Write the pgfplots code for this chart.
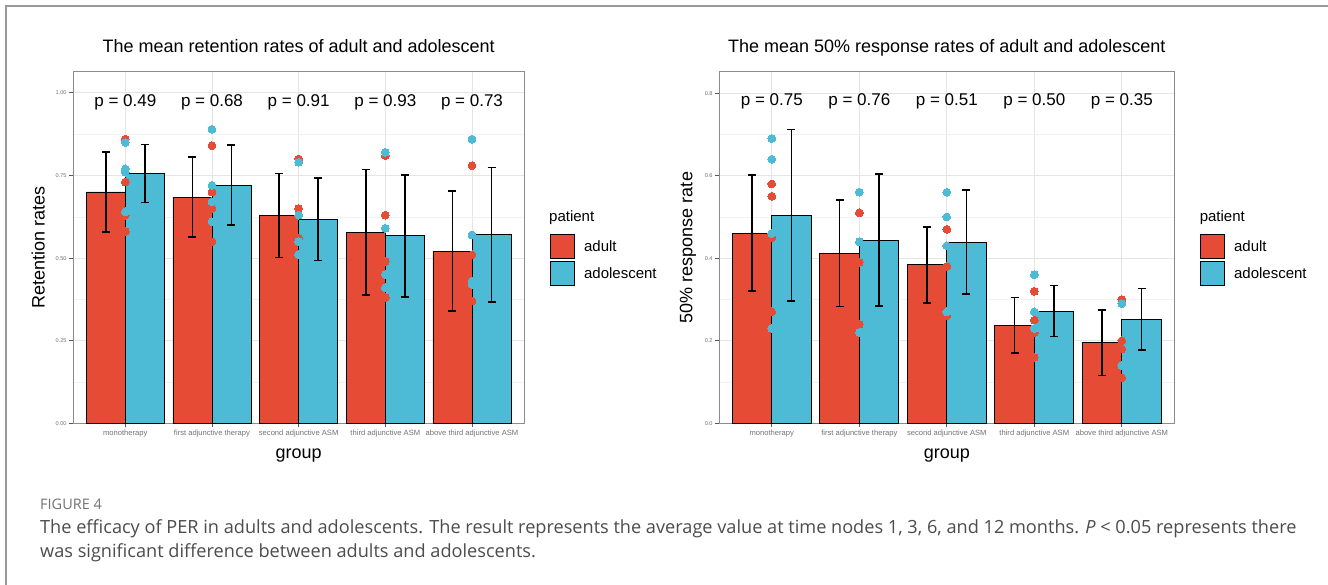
\documentclass[border=0pt]{standalone}
\usepackage{pgfplots}
\usepackage{pgfplotstable}
\pgfplotsset{compat=1.18}
\usepackage{fontspec}
\setmainfont{Liberation Sans}
\newfontfamily\capfont{Open Sans}
\definecolor{npgred}{HTML}{E64B35}
\definecolor{npgblue}{HTML}{4DBBD5}

\pgfplotstableread{
x ya ea yb eb
1 0.700 0.122 0.756 0.088
2 0.684 0.121 0.721 0.121
3 0.629 0.127 0.618 0.125
4 0.578 0.190 0.567 0.185
5 0.521 0.182 0.571 0.203
}\retbars
\pgfplotstableread{
x a b
1 0.86 0.85
1 0.73 0.77
1 0.63 0.76
1 0.58 0.64
2 0.84 0.89
2 0.70 0.72
2 0.65 0.67
2 0.55 0.61
3 0.80 0.79
3 0.65 0.63
3 0.56 0.55
3 0.51 0.51
4 0.81 0.82
4 0.63 0.59
4 0.49 0.45
4 0.38 0.41
5 0.78 0.86
5 0.51 0.57
5 0.43 0.43
5 0.37 0.42
}\retpts
\pgfplotstableread{
x ya ea yb eb
1 0.461 0.140 0.504 0.208
2 0.412 0.129 0.444 0.160
3 0.384 0.092 0.439 0.126
4 0.238 0.067 0.272 0.062
5 0.195 0.079 0.252 0.075
}\resbars
\pgfplotstableread{
x a b
1 0.58 0.69
1 0.55 0.64
1 0.45 0.46
1 0.27 0.23
2 0.51 0.56
2 0.51 0.56
2 0.39 0.44
2 0.24 0.22
3 0.47 0.56
3 0.43 0.50
3 0.38 0.43
3 0.26 0.27
4 0.32 0.36
4 0.25 0.27
4 0.22 0.23
4 0.16 0.23
5 0.30 0.29
5 0.20 0.29
5 0.18 0.29
5 0.11 0.14
}\respts

\pgfplotsset{
  gg/.style={
    scale only axis, height=351.6pt, anchor=south west,
    clip mode=individual,
    xmin=0.4, xmax=5.6, ymin=0,
    xtick={1,2,3,4,5},
    xticklabels={monotherapy, first adjunctive therapy, second adjunctive ASM, third adjunctive ASM, above third adjunctive ASM},
    x tick label style={font=\fontsize{7.6}{8}\selectfont, text=black!55, inner sep=2pt},
    y tick label style={font=\fontsize{5.6}{6}\selectfont, text=black!55, inner sep=2.5pt},
    tick align=outside, major tick length=4pt, minor tick length=0pt,
    tick style={black!65, line width=0.7pt},
    xtick pos=bottom, ytick pos=left,
    minor x tick num=0, minor y tick num=1,
    grid=both,
    major grid style={black!10, line width=0.8pt},
    minor grid style={black!5, line width=0.5pt},
    axis line style={black!45, line width=0.9pt},
    xlabel={group},
    xlabel style={font=\fontsize{18}{20}\selectfont, at={(axis description cs:0.5,-0.0995)}, anchor=base},
    ylabel style={font=\fontsize{18}{20}\selectfont, anchor=center},
    title style={font=\fontsize{18}{20}\selectfont, at={(axis description cs:0.5,1.038)}, anchor=base},
    legend style={draw=none, fill=none, font=\fontsize{15}{17}\selectfont, anchor=north west,
      inner sep=0pt, row sep=2pt, column sep=9pt, nodes={inner sep=0pt, anchor=west}},
    legend cell align=left,
    legend image code/.code={\draw[#1, draw=black, line width=0.9pt] (0pt,-12pt) rectangle (24pt,12pt);},
  },
  barA/.style={ybar, bar width=0.45, bar shift=-0.225, fill=npgred, draw=black, line width=0.9pt},
  barB/.style={ybar, bar width=0.45, bar shift=0.225, fill=npgblue, draw=black, line width=0.9pt},
  errb/.style={draw=none, mark=none, forget plot,
    error bars/.cd, y dir=both, y explicit,
    error bar style={draw=black, line width=1.7pt},
    error mark options={draw=black, line width=1.7pt, mark size=4pt, rotate=90}},
  ptA/.style={only marks, mark=*, mark size=3.9pt, color=npgred, mark options={draw=npgred, fill=npgred, line width=0pt}, forget plot},
  ptB/.style={only marks, mark=*, mark size=3.9pt, color=npgblue, mark options={draw=npgblue, fill=npgblue, line width=0pt}, forget plot},
}

\begin{document}
\begin{tikzpicture}[x=1pt,y=1pt]
\useasboundingbox (0,0) rectangle (1328,-585);
\fill[white] (0,0) rectangle (1328,-585);
\draw[black!40, line width=1.2pt] (6,-585) -- (6,-6) -- (1328,-6);

\begin{axis}[gg, at={(73.3pt,-423.3pt)}, width=450.7pt, ymax=1.064,
  ytick={0,0.25,0.5,0.75,1}, yticklabels={0.00,0.25,0.50,0.75,1.00},
  ylabel={Retention rates}, ylabel style={at={(axis description cs:-0.078,0.5)}},
  title={The mean retention rates of adult and adolescent},
  legend style={at={(axis description cs:1.0577,0.5384)}}]
\addplot[barA] table[x=x, y=ya] {\retbars};
\addlegendentry{adult}
\addplot[barB] table[x=x, y=yb] {\retbars};
\addlegendentry{adolescent}
\addplot[errb] table[x expr=\thisrow{x}-0.225, y=ya, y error=ea] {\retbars};
\addplot[errb] table[x expr=\thisrow{x}+0.225, y=yb, y error=eb] {\retbars};
\addplot[ptA] table[x=x, y=a] {\retpts};
\addplot[ptB] table[x=x, y=b] {\retpts};
\foreach \i/\p in {1/0.49,2/0.68,3/0.91,4/0.93,5/0.73}{
  \edef\tmp{\noexpand\node[font=\noexpand\fontsize{17}{19}\noexpand\selectfont, anchor=base] at (axis cs:\i,0.9595) {p = \p};}\tmp
}
\node[font=\fontsize{15}{17}\selectfont, anchor=west, inner sep=0pt] at (axis description cs:1.0555,0.586) {patient};
\end{axis}

\begin{axis}[gg, at={(719.3pt,-423.3pt)}, width=455pt, ymax=0.852,
  ytick={0,0.2,0.4,0.6,0.8}, yticklabels={0.0,0.2,0.4,0.6,0.8},
  ylabel={50\% response rate}, ylabel style={at={(axis description cs:-0.069,0.5)}},
  title={The mean 50\% response rates of adult and adolescent},
  legend style={at={(axis description cs:1.0565,0.5384)}}]
\addplot[barA] table[x=x, y=ya] {\resbars};
\addlegendentry{adult}
\addplot[barB] table[x=x, y=yb] {\resbars};
\addlegendentry{adolescent}
\addplot[errb] table[x expr=\thisrow{x}-0.225, y=ya, y error=ea] {\resbars};
\addplot[errb] table[x expr=\thisrow{x}+0.225, y=yb, y error=eb] {\resbars};
\addplot[ptA] table[x=x, y=a] {\respts};
\addplot[ptB] table[x=x, y=b] {\respts};
\foreach \i/\p in {1/0.75,2/0.76,3/0.51,4/0.50,5/0.35}{
  \edef\tmp{\noexpand\node[font=\noexpand\fontsize{17}{19}\noexpand\selectfont, anchor=base] at (axis cs:\i,0.769) {p = \p};}\tmp
}
\node[font=\fontsize{15}{17}\selectfont, anchor=west, inner sep=0pt] at (axis description cs:1.0555,0.586) {patient};
\end{axis}

\node[anchor=base west, font=\capfont\fontsize{14.5}{16}\selectfont, text=black!55, inner sep=0pt] at (40,-509) {FIGURE 4};
\node[anchor=base west, font=\capfont\fontsize{18.15}{20}\selectfont, text=black!70, inner sep=0pt] at (40,-533) {The efficacy of PER in adults and adolescents. The result represents the average value at time nodes 1, 3, 6, and 12 months. \textit{P} < 0.05 represents there};
\node[anchor=base west, font=\capfont\fontsize{18.15}{20}\selectfont, text=black!70, inner sep=0pt] at (40,-557) {was significant difference between adults and adolescents.};
\end{tikzpicture}
\end{document}
